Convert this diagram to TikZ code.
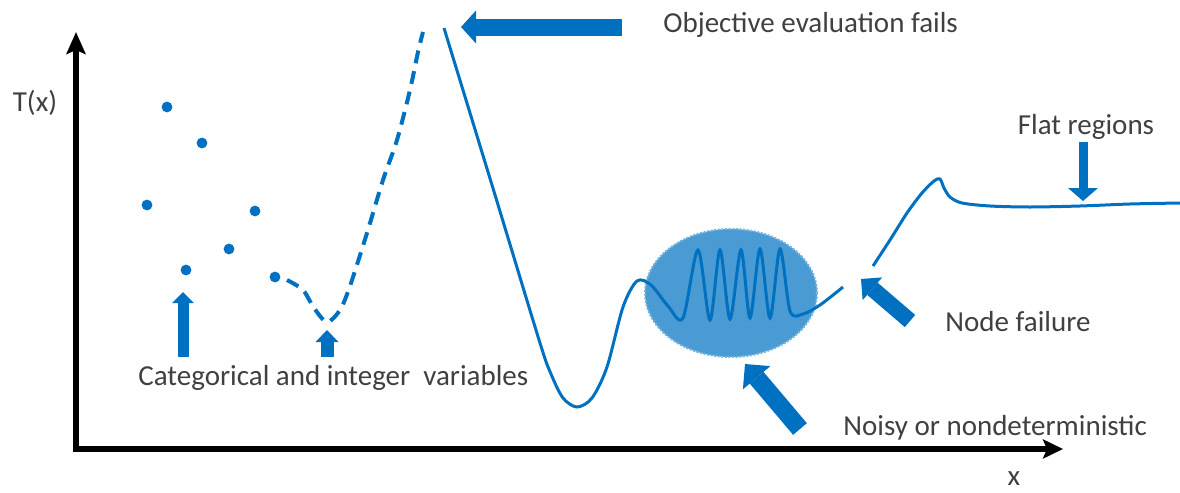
\documentclass[tikz,border=0pt]{standalone}
\usepackage{fontspec}
\setmainfont{Carlito}
\usepackage{tikz}
\usetikzlibrary{arrows.meta,shapes.geometric}
\definecolor{fnblue}{RGB}{0,112,192}
\definecolor{noisefill}{RGB}{74,155,211}
\definecolor{labelgray}{RGB}{64,64,64}

\begin{document}
\begin{tikzpicture}[
                  x=0.5pt,y=-0.5pt,
                  font=\fontsize{14.5}{17}\selectfont,
                  lbl/.style={text=labelgray,inner sep=0pt,anchor=west},
                  axis/.style={line width=3.2pt,line join=miter,{Stealth[length=11pt,width=9.5pt,inset=2pt]}-{Stealth[length=10pt,width=9.5pt,inset=2pt]}},
                  curve/.style={fnblue,line width=1.5pt},
                  dot/.style={fill=fnblue},
                  blob/.style={ellipse,fill=noisefill,draw=noisefill!75!white,line width=1pt,dash pattern=on 1pt off 0.8pt,minimum width=86pt,minimum height=64pt,inner sep=0pt},
                  blockarrow/.style n args={3}{draw=fnblue,line width=#1,-{Triangle[length=#2,width=#3,line width=0pt]}}
                ]
                \useasboundingbox (0,0) rectangle (1180,493);
                
                \coordinate (origin) at (76,449);
                \draw[axis] (76,32) -- (origin) -- (1063,449);
                \node[lbl,anchor=center] (ylabel) at (35,103) {T(x)};
                \node[lbl,anchor=center] (xlabel) at (1014,479) {x};
                
                \foreach \px/\py in {167/107,202/143,147/205,255/211,229/249,186/270,275/277}
                  \fill[dot] (\px,\py) circle (2.7pt);
                
                \node[blob] (noise) at (731,293) {};
                
                \draw[curve,line width=2pt,dash pattern=on 6.5pt off 4pt] plot[smooth] coordinates {(287,280) (303,290) (314,308) (327,322) (340,310) (350,286) (367,233) (383,180) (397,140) (410,90) (418,52) (423,32)};
                \draw[curve] plot[smooth] coordinates {(444,28) (492,185) (540,343) (551,374) (563,398) (577,407) (592,398) (607,367) (623,307) (637,281) (651,285) (668,306) (683,318) (698,250) (710,320) (720,250) (730,319) (741,250) (750,318) (760,249) (770,318) (780,249) (790,311) (803,314) (820,305) (843,287)};
                \draw[curve] plot[smooth] coordinates {(873,266) (890,240) (907,213) (922,193) (934,181) (940,179) (944,188) (950,197) (962,203) (990,206) (1030,207) (1080,206) (1130,204) (1180,203)};
                
                \node[lbl] (objective) at (663,25) {Objective evaluation fails};
                \node[lbl,anchor=center] (flat) at (1086,127) {Flat regions};
                \node[lbl] (nodefail) at (945,322) {Node failure};
                \node[lbl] (noisy) at (843,428) {Noisy or nondeterministic};
                \node[lbl] (categ) at (138,378) {Categorical and integer\ \ variables};
                
                \coordinate (failtip) at (461,27);
                \coordinate (flattip) at (1083,201);
                \coordinate (nodetip) at (861,279);
                \coordinate (noisetip) at (745,364);
                \coordinate (cattipA) at (183,292);
                \coordinate (cattipB) at (327,330);
                
                \draw[blockarrow={8.5pt}{7.5pt}{16.5pt}] (objective.west) ++(-41,2) -- (failtip);
                \draw[blockarrow={4.5pt}{6.5pt}{15pt}] (flattip |- flat.south) ++(0,2) -- (flattip);
                \draw[blockarrow={8pt}{7.5pt}{15pt}] (nodefail.west) ++(-35,-1) -- (nodetip);
                \draw[blockarrow={9pt}{9pt}{18pt}] (noisy.west) ++(-43,1) -- (noisetip);
                \draw[blockarrow={5.5pt}{5.5pt}{11pt}] (cattipA |- categ.north) ++(0,-8) -- (cattipA);
                \draw[blockarrow={6.5pt}{6pt}{11.5pt}] (cattipB |- categ.north) ++(0,-8) -- (cattipB);
                \end{tikzpicture}
\end{document}
